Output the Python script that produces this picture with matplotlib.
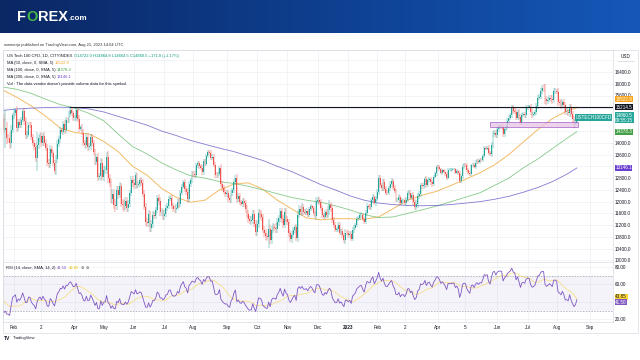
import numpy as np
import matplotlib
matplotlib.use("Agg")
import matplotlib.pyplot as plt
import matplotlib.transforms as mtransforms
from matplotlib.patches import Rectangle
from matplotlib.colors import LinearSegmentedColormap

plt.rcParams['font.family'] = ['Liberation Sans', 'DejaVu Sans']

# ---------------- DATA ----------------
# Daily closes, Dec 2021 .. Aug 21 2023 (first bars are warm-up for the RSI)
CLOSES = [
    # Dec 2021
    16000, 16150, 15880, 16030, 16500, 16560, 16330, 16480, 16270, 16100, 16450,
    16050, 15950, 15810, 16210, 16380, 16490, 16740, 16660, 16670, 16620, 16320,
    # Jan 2022
    16500, 16280, 15770, 15770, 15600, 15620, 15860, 15920, 15510, 15610, 15200,
    15020, 14850, 14440, 14510, 14160, 14150, 14000, 14440, 14930,
    # Feb 2022
    15020, 15100, 14500, 14700, 14600, 14780, 15080, 14730, 14260, 14280, 14620,
    14610, 14200, 13990, 13860, 13480, 13920, 14150, 14240,
    # Mar 2022
    13990, 14240, 14010, 13840, 13320, 13290, 13780, 13640, 13300, 13050, 13450,
    13950, 14120, 14420, 14380, 14650, 14430, 14780, 14770, 14990, 15130, 15000, 14840,
    # Apr 2022
    14860, 15110, 14810, 14480, 14530, 14350, 13990, 13930, 14200, 13870, 13890,
    14190, 13990, 13700, 13350, 13520, 12850, 12860, 13330, 12850,
    # May 2022
    13060, 13080, 13530, 12820, 12640, 12090, 12270, 11890, 11860, 12390, 12230,
    12540, 11930, 11870, 11840, 12030, 11780, 11930, 12300, 12740, 12640,
    # Jun 2022
    12550, 12890, 12560, 12610, 12720, 12640, 12270, 11830, 11300, 11290, 11570,
    11090, 11250, 11540, 11520, 11700, 12130, 12010, 11640, 11650, 11500,
    # Jul 2022
    11580, 11800, 11840, 12100, 12130, 11860, 11750, 11740, 11800, 12000, 11910,
    12300, 12500, 12660, 12420, 12340, 12080, 12600, 12730, 12950,
    # Aug 2022
    12930, 12890, 13230, 13300, 13210, 13160, 13010, 13370, 13290, 13560, 13690,
    13660, 13500, 13530, 13250, 12910, 12900, 12940, 13150, 12610, 12470, 12340, 12270,
    # Sep 2022
    12280, 12110, 12040, 12290, 12380, 12660, 12810, 12090, 12180, 11980, 11930,
    12030, 11940, 11740, 11590, 11400, 11350, 11360, 11590, 11250, 10970,
    # Oct 2022
    11240, 11600, 11570, 11480, 11040, 10930, 10820, 10790, 11070, 10690, 11040,
    11140, 11120, 11060, 11310, 11430, 11670, 11410, 11220, 11660, 11410,
    # Nov 2022
    11300, 10920, 10720, 10880, 11040, 11130, 10760, 11560, 11760, 11650, 11820,
    11650, 11630, 11680, 11560, 11740, 11850, 11770, 11600, 11520, 12030,
    # Dec 2022
    12050, 11990, 11780, 11540, 11490, 11640, 11560, 11730, 11870, 11780, 11370,
    11210, 11050, 11060, 11220, 10950, 11000, 10850, 10680, 10950, 10940,
    # Jan 2023
    10860, 10910, 10740, 11040, 11110, 11200, 11400, 11460, 11540, 11560, 11420,
    11310, 11620, 11860, 11830, 11810, 12040, 12170, 11940, 12100,
    # Feb 2023
    12340, 12800, 12570, 12450, 12680, 12440, 12310, 12300, 12460, 12600, 12700,
    12480, 12360, 12060, 12060, 12160, 11950, 12040, 12040,
    # Mar 2023
    11950, 12060, 12290, 12300, 12140, 12210, 11980, 11830, 11910, 12190, 12250,
    12550, 12520, 12580, 12760, 12580, 12730, 12770, 12660, 12600, 12850, 12960, 13180,
    # Apr 2023
    13170, 13100, 12980, 13060, 13010, 12930, 12820, 13080, 13080, 13080, 13100,
    13100, 12990, 13040, 12970, 12710, 12860, 13190, 13250,
    # May 2023
    13230, 13080, 12990, 12930, 13230, 13260, 13180, 13330, 13390, 13340, 13420,
    13410, 13560, 13820, 13800, 13840, 13670, 13610, 13940, 14300, 14350, 14250,
    # Jun 2023
    14460, 14550, 14550, 14540, 14290, 14460, 14540, 14750, 14850, 14940, 15180,
    15080, 15060, 14860, 15050, 14890, 14690, 14940, 14970, 14940, 15180,
    # Jul 2023
    15230, 15230, 15040, 14950, 14970, 15040, 15260, 15530, 15570, 15770, 15870,
    15860, 15480, 15410, 15460, 15540, 15500, 15450, 15760, 15760,
    # Aug 2023
    15730, 15380, 15340, 15270, 15400, 15270, 15050, 15060, 15010, 15210, 14970,
    14800, 14630, 14690, 14860.5,
]

# Wick extension beyond the body, in tens of points
WICKS = [
    12, 10, 15, 9, 8, 6, 11, 9, 10, 13, 14, 16, 12, 9, 10, 7, 5, 6, 5, 4, 5, 8,
    9, 12, 10, 11, 9, 14, 10, 8, 13, 12, 11, 10, 15, 12, 60, 20, 14, 22, 18, 10,
    12, 10, 14, 11, 10, 9, 8, 12, 14, 12, 9, 10, 11, 10, 12, 14, 45, 12, 11,
    12, 10, 13, 11, 12, 14, 13, 11, 10, 12, 13, 14, 10, 11, 9, 10, 12, 9, 10, 8, 11, 10, 9,
    9, 11, 10, 12, 9, 10, 11, 12, 13, 14, 10, 12, 11, 10, 9, 11, 14, 12, 15, 13,
    14, 12, 15, 18, 13, 14, 16, 15, 20, 14, 13, 12, 11, 16, 18, 13, 14, 12, 11, 12, 13,
    12, 11, 10, 9, 10, 11, 12, 13, 14, 15, 16, 12, 13, 14, 11, 12, 10, 13, 14, 12, 11,
    13, 10, 11, 9, 8, 10, 11, 12, 13, 10, 11, 10, 9, 8, 10, 12, 11, 10, 9, 8,
    9, 10, 8, 7, 9, 8, 10, 9, 8, 7, 6, 7, 8, 9, 8, 10, 9, 8, 7, 12, 10, 9, 11,
    12, 11, 10, 9, 10, 8, 9, 12, 11, 10, 9, 10, 11, 12, 13, 11, 12, 14, 13, 12, 14,
    13, 14, 12, 13, 11, 12, 13, 12, 35, 14, 13, 12, 11, 14, 12, 13, 11, 12, 13, 12, 11,
    11, 12, 10, 11, 10, 9, 11, 14, 12, 10, 13, 11, 10, 9, 8, 7, 6, 5, 8, 9, 14,
    12, 11, 10, 9, 8, 9, 10, 11, 17, 12, 11, 10, 9, 8, 9, 10, 8, 9, 10, 11, 9,
    10, 9, 8, 9, 10, 8, 7, 6, 9, 8, 7, 6, 8, 9, 7, 8, 9, 8, 7, 8,
    9, 10, 12, 8, 9, 8, 10, 9, 8, 10, 9, 8, 7, 8, 7, 9, 8, 7, 6,
    8, 9, 7, 8, 9, 10, 11, 12, 13, 12, 11, 10, 9, 8, 9, 10, 8, 7, 8, 9, 7, 6, 8,
    7, 6, 5, 6, 5, 6, 7, 6, 5, 6, 5, 4, 5, 6, 5, 7, 8, 9, 7,
    6, 7, 8, 6, 5, 6, 5, 7, 6, 5, 6, 5, 7, 8, 6, 5, 7, 6, 8, 10, 9, 8,
    9, 8, 7, 9, 10, 8, 7, 9, 8, 9, 10, 11, 9, 10, 8, 9, 10, 8, 7, 8, 9,
    7, 5, 9, 10, 8, 7, 9, 11, 8, 9, 10, 12, 15, 11, 9, 8, 10, 13, 11, 9,
    8, 12, 10, 13, 9, 10, 12, 11, 9, 12, 10, 11, 12, 13, 10,
]

# trading days per month, Dec 2021 .. Aug 2023 (full month)
MONTH_DAYS = [22, 20, 19, 23, 20, 21, 21, 20, 23, 21, 21, 21, 21, 20, 19, 23, 19, 22, 21, 20, 23]
# labels at the first bar of each month, Dec 2021 .. Sep 2023
MONTH_LABELS = ['', '', 'Feb', '2', 'Apr', 'May', 'Jun', 'Jul', 'Aug', 'Sep', 'Oct', 'Nov',
                'Dec', '2023', 'Feb', '2', 'Apr', '5', 'Jun', 'Jul', 'Aug', 'Sep']

FIRST_SHOWN_BAR = 34   # Jan 20 2022
MA_STEP = 10           # MA values read every 10 bars from FIRST_SHOWN_BAR, plus last bar
MA50 = [15800, 15550, 15250, 14900, 14500, 14350, 14300, 14050, 13700, 13200, 12900,
        12450, 12150, 11980, 12050, 12400, 12600, 12640, 12420, 12050, 11750, 11450,
        11380, 11420, 11420, 11400, 11480, 11760, 12050, 12220, 12350, 12550, 12760,
        12980, 13250, 13600, 14030, 14450, 14820, 15080, 15190]
MA100 = [15900, 15820, 15680, 15480, 15300, 15180, 15000, 14750, 14300, 13870, 13620,
         13320, 13080, 12880, 12800, 12680, 12620, 12520, 12400, 12270, 12140, 12050,
         11980, 11860, 11720, 11560, 11460, 11480, 11600, 11720, 11850, 12000, 12150,
         12300, 12550, 12800, 13150, 13450, 13800, 14150, 14378]
MA200 = [15100, 15150, 15180, 15200, 15210, 15200, 15150, 15050, 14900, 14750, 14600,
         14400, 14250, 14080, 13950, 13820, 13700, 13550, 13400, 13200, 13020, 12800,
         12580, 12400, 12200, 12050, 11950, 11900, 11870, 11860, 11870, 11900, 11950,
         12000, 12080, 12180, 12320, 12480, 12680, 12930, 13146]

LAST = dict(open=14722.0, high=14864.8, low=14664.5, close=14860.5, chg=171.0, pct=1.17)
MA_LABELS = [15522.9, 14378.3, 13146.1]
RSI_LAST, RSI_MA_LAST = 41.50, 43.85
RESIST_LEVEL = 15214.5
RESIST_START_BAR = 81          # Mar 29 2022
ZONE_LOW, ZONE_HIGH = 14550, 14720
ZONE_START_BAR, ZONE_END_BAR = 371, 432

# ---------------- PREP ----------------
closes = np.array(CLOSES, dtype=float)
wicks = np.array(WICKS, dtype=float) * 10
assert len(closes) == len(wicks) == sum(MONTH_DAYS[:-1]) + 15, (len(closes), len(wicks))
n = len(closes)
x = np.arange(n)
opens = np.concatenate([[closes[0]], closes[:-1]])
highs = np.maximum(opens, closes) + wicks
lows = np.minimum(opens, closes) - wicks

# RSI (Wilder) and its SMA
delta = np.diff(closes, prepend=closes[0])
up = np.clip(delta, 0, None)
dn = np.clip(-delta, 0, None)
L = 14
au = np.zeros(n); ad = np.zeros(n)
au[L] = up[1:L + 1].mean(); ad[L] = dn[1:L + 1].mean()
for i in range(L + 1, n):
    au[i] = (au[i - 1] * (L - 1) + up[i]) / L
    ad[i] = (ad[i - 1] * (L - 1) + dn[i]) / L
rsi = np.full(n, np.nan)
rsi[L:] = 100 - 100 / (1 + au[L:] / np.maximum(ad[L:], 1e-9))
rsi_ma = np.full(n, np.nan)
for i in range(2 * L, n):
    rsi_ma[i] = np.mean(rsi[i - L + 1:i + 1])

ma_x = list(range(FIRST_SHOWN_BAR, n - 1, MA_STEP))[:len(MA50) - 1] + [n - 1]

month_starts = np.concatenate([[0], np.cumsum(MONTH_DAYS)])

# ---------------- FIGURE ----------------
W, H = 640, 360
fig = plt.figure(figsize=(6.4, 3.6), dpi=100)
fig.patch.set_facecolor('white')

def fx(px):
    return px / W

def fy(py):
    return 1 - py / H

# banner
axb = fig.add_axes([0, fy(33), 1, 33 / H])
grad = np.linspace(0, 1, 256).reshape(1, -1)
cm = LinearSegmentedColormap.from_list('b', ['#0b2764', '#0e3f8f', '#1558b8'])
axb.imshow(grad, aspect='auto', cmap=cm, extent=[0, 1, 0, 1])
axb.axis('off')

renderer = fig.canvas.get_renderer()

def seq_text(px, py, parts, size, weight='normal', gap=1.5):
    for s, col in parts:
        t = fig.text(fx(px), fy(py), s, color=col, fontsize=size, ha='left', va='center',
                     fontweight=weight)
        bb = t.get_window_extent(renderer=renderer)
        px += bb.width + gap
    return px

# logo
seq_text(17, 17, [('F', 'white'), ('O', '#45b649'), ('REX', 'white')], 10.5, 'bold', gap=0.3)
fig.text(fx(68.5), fy(18), '.com', color='white', fontsize=5.8, fontweight='bold', ha='left', va='center')

FS = 3.3
LFS = 3.0
fig.text(fx(4), fy(45), 'wwmerjo published on TradingView.com, Aug 21, 2023 14:04 UTC',
         fontsize=LFS, color='#333333', ha='left', va='center')

# axes
L_PX, R_PX = 3, 613
axp = fig.add_axes([fx(L_PX), fy(262), (R_PX - L_PX) / W, 212 / H])
axr = fig.add_axes([fx(L_PX), fy(322), (R_PX - L_PX) / W, 60 / H])

PX_PER_BAR = 1.447
x_left = 42 - (14 - L_PX) / PX_PER_BAR
x_right = 42 + (R_PX - 14) / PX_PER_BAR

GRID = '#eef0f5'
SP = '#d9dce3'
for a in (axp, axr):
    a.set_facecolor('white')
    for s in a.spines.values():
        s.set_color(SP)
        s.set_linewidth(0.5)
    a.tick_params(length=0, labelsize=FS, colors='#131722', pad=2)
    a.yaxis.tick_right()
    a.set_axisbelow(True)

ticks_x = month_starts[:len(MONTH_LABELS)]
axr.set_xticks(ticks_x)
axr.set_xticklabels(MONTH_LABELS)
for lbl in axr.get_xticklabels():
    if lbl.get_text() == '2023':
        lbl.set_fontweight('bold')
axr.tick_params(axis='x', pad=2.5)
axp.set_xticks(ticks_x)
axp.set_xticklabels([])
for a in (axp, axr):
    for t in ticks_x:
        a.axvline(t, color=GRID, lw=0.5, zorder=0)

price_ticks = np.arange(10000, 16801, 400)
hidden = {13200, 14400, 14800, 15200, 16800}
axp.set_yticks(price_ticks)
axp.set_yticklabels(['' if v in hidden else f'{v:.1f}' for v in price_ticks])
for v in price_ticks:
    axp.axhline(v, color=GRID, lw=0.5, zorder=0)
axp.tick_params(axis='y', pad=1.5)
for lbl, v in zip(axp.get_yticklabels(), price_ticks):
    if v == 15600:
        lbl.set_transform(lbl.get_transform() + mtransforms.ScaledTranslation(0, 1.2 / 100, fig.dpi_scale_trans))

axr.set_yticks([20, 40, 60, 80])
axr.set_yticklabels(['20.00', '40.00', '60.00', '80.00'])
axr.tick_params(axis='y', pad=1.5)
for v in [20, 40, 60, 80]:
    axr.axhline(v, color=GRID, lw=0.5, zorder=0)

# candles
sl = slice(FIRST_SHOWN_BAR - 2, n)
xs, o, c, h, lo = x[sl], opens[sl], closes[sl], highs[sl], lows[sl]
upm = c >= o
UPC, DNC = '#26a69a', '#ef5350'
cols = np.where(upm, UPC, DNC)
axp.vlines(xs, lo, h, colors=cols, lw=0.35, zorder=3)
body = np.abs(c - o)
body = np.where(body < 10, 10, body)
bottoms = np.minimum(o, c)
axp.bar(xs, body, bottom=bottoms, width=0.62, color=cols, lw=0, zorder=4)

# moving averages
axp.plot(ma_x, MA50, color='#f0b04a', lw=0.7, zorder=2, alpha=0.85)
axp.plot(ma_x, MA100, color='#5fb862', lw=0.6, zorder=2, alpha=0.75)
axp.plot(ma_x, MA200, color='#5a4fc0', lw=0.6, zorder=2, alpha=0.75)

# drawings
axp.plot([RESIST_START_BAR, x_right], [RESIST_LEVEL, RESIST_LEVEL], color='#131722', lw=0.8, zorder=5)
axp.add_patch(Rectangle((ZONE_START_BAR, ZONE_LOW), ZONE_END_BAR - ZONE_START_BAR, ZONE_HIGH - ZONE_LOW,
                        facecolor='#e7c4e6', edgecolor='#9c4fbf', lw=0.6, alpha=0.75, zorder=5))

# price scale labels
blend_p = mtransforms.blended_transform_factory(axp.transAxes, axp.transData)

def plabel(ax, val, text, fc, tc='white', dy=0):
    tr = mtransforms.blended_transform_factory(ax.transAxes, ax.transData)
    ax.annotate(text, xy=(1, val), xycoords=tr, xytext=(1.6, dy), textcoords='offset points',
                ha='left', va='center', fontsize=FS, color=tc, annotation_clip=False,
                linespacing=1.0,
                bbox=dict(boxstyle='square,pad=0.12', fc=fc, ec='none'), zorder=10)

plabel(axp, MA_LABELS[0], f'{MA_LABELS[0]:.1f}', '#f7a21b', dy=-1.0)
plabel(axp, RESIST_LEVEL, f'{RESIST_LEVEL:.1f}', '#131722')
plabel(axp, LAST['close'], f"{LAST['close']:.1f}\n09:55:15", '#26a69a')
plabel(axp, MA_LABELS[1], f'{MA_LABELS[1]:.1f}', '#43a047')
plabel(axp, MA_LABELS[2], f'{MA_LABELS[2]:.1f}', '#6a3fd0')
axp.annotate('USTECH100CFD', xy=(1, LAST['close']), xycoords=blend_p, xytext=(-1, 0),
             textcoords='offset points', ha='right', va='center', fontsize=FS, color='white',
             bbox=dict(boxstyle='square,pad=0.15', fc='#26a69a', ec='none'), zorder=10,
             annotation_clip=False)
fig.text(fx(621), fy(57), 'USD', fontsize=FS, color='#131722', ha='left', va='center')
fig.add_artist(plt.Line2D([fx(617), fx(634)], [fy(61), fy(61)], color='#c8ccd6', lw=0.4))

# RSI
axr.axhspan(30, 70, color='#7e57c2', alpha=0.07, lw=0, zorder=1)
for lv in (70, 30):
    axr.axhline(lv, color='#9598a1', lw=0.45, ls=(0, (2.5, 2)), zorder=2)
axr.plot(x, rsi_ma, color='#f5d23c', lw=0.6, alpha=0.6, zorder=3)
axr.plot(x, rsi, color='#7e57c2', lw=0.6, zorder=4)
plabel(axr, RSI_MA_LAST, f'{RSI_MA_LAST:.2f}', '#fdd835', tc='#131722', dy=1.3)
plabel(axr, RSI_LAST, f'{RSI_LAST:.2f}', '#7e57c2', dy=-1.3)

# limits (set last so nothing re-autoscales them)
for a in (axp, axr):
    a.set_xlim(x_left, x_right)
axp.set_ylim(16000 - 178 * 34, 16000 + 34 * 34)
axr.set_ylim(80 - 55 / 0.87, 80 + 5 / 0.87)

# legends
TEAL = '#089981'
seq_text(7, 56, [('US Tech 100 CFD, 1D, CITYINDEX', '#131722'),
                 (f"O{LAST['open']:.1f} H{LAST['high']:.1f} L{LAST['low']:.1f} C{LAST['close']:.1f} "
                  f"+{LAST['chg']:.1f} (+{LAST['pct']:.2f}%)", TEAL)], LFS)
seq_text(7, 63, [('MA (50, close, 0, SMA, 5)', '#131722'), (f'{MA_LABELS[0]:.1f}', '#f7a21b')], LFS)
seq_text(7, 70, [('MA (100, close, 0, SMA, 5)', '#131722'), (f'{MA_LABELS[1]:.1f}', '#43a047')], LFS)
seq_text(7, 77, [('MA (200, close, 0, SMA, 5)', '#131722'), (f'{MA_LABELS[2]:.1f}', '#6a3fd0')], LFS)
seq_text(7, 84, [("Vol \u00b7 The data vendor doesn't provide volume data for this symbol.", '#131722')], LFS)
seq_text(6, 268, [('RSI (14, close, SMA, 14, 2)', '#131722'), (f'{RSI_LAST:.2f}', '#7e57c2'),
                  (f'{RSI_MA_LAST:.2f}', '#e6bf00'), ('\u2298', '#555555'), ('\u2298', '#555555')], LFS)

# outer frame of the chart
fig.add_artist(Rectangle((fx(3), fy(333)), (638 - 3) / W, (333 - 50) / H, transform=fig.transFigure,
                         fill=False, ec=SP, lw=0.5))

# TradingView mark
seq_text(4, 338, [('TV', '#131722')], 3.6, 'bold', gap=1)
fig.text(fx(13), fy(338), 'TradingView', fontsize=LFS, color='#131722', ha='left', va='center')

fig.savefig('out.png', dpi=100)
